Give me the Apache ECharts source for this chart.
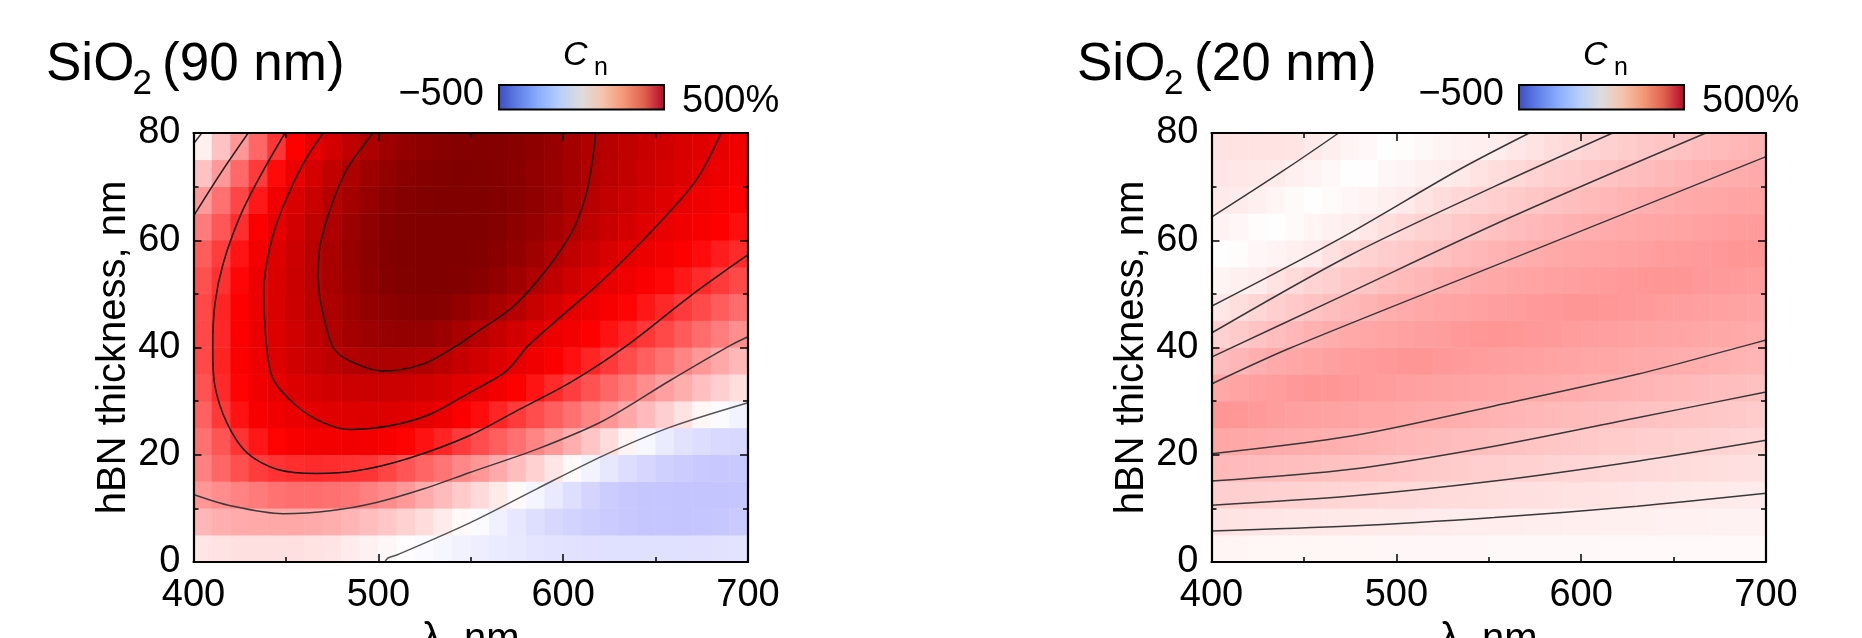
<!DOCTYPE html>
<html><head><meta charset="utf-8">
<script src="https://cdn.jsdelivr.net/npm/echarts@6/dist/echarts.min.js"></script>
<style>html,body{margin:0;padding:0;background:#fff}#c{width:1862px;height:638px}</style>
</head><body><div id="c"></div>
<script>
// ---- cell centres of the heatmaps ----
const lambdaCells = [405,415,425,435,445,455,465,475,485,495,505,515,525,535,545,555,565,575,585,595,605,615,625,635,645,655,665,675,685,695];
const thicknessCells = [2.5,7.5,12.5,17.5,22.5,27.5,32.5,37.5,42.5,47.5,52.5,57.5,62.5,67.5,72.5,77.5];

// ---- Cn (%) for SiO2 90 nm, rows from bottom (2.5 nm) to top (77.5 nm) ----
const cn90 = [
[25,28,30,30,30,30,28,25,20,14,8,2,-4,-9,-13,-17,-20,-23,-25,-27,-28,-29,-30,-30,-30,-30,-30,-29,-28,-27],
[72,78,82,84,85,85,83,79,73,65,55,45,33,20,6,-5,-15,-24,-32,-38,-43,-48,-51,-54,-56,-57,-58,-57,-55,-52],
[102,112,122,130,138,142,143,140,135,125,113,100,82,67,52,36,21,6,-10,-22,-32,-42,-50,-54,-56,-57,-58,-58,-58,-57],
[125,150,172,190,200,206,208,206,202,198,183,167,151,135,118,102,83,64,44,25,6,-12,-24,-33,-40,-46,-50,-53,-54,-53],
[140,168,200,228,248,262,270,275,276,272,262,248,232,214,193,175,157,139,120,101,80,57,34,11,-8,-20,-28,-33,-37,-38],
[155,195,232,262,280,292,302,310,314,316,315,310,302,283,260,237,214,193,175,157,139,121,104,85,67,48,28,9,-5,-12],
[170,210,248,280,297,318,332,342,350,352,352,348,340,328,312,298,275,253,230,208,188,169,150,131,112,94,79,63,48,32],
[178,215,255,288,315,340,362,382,400,410,412,410,402,384,362,341,319,298,277,256,235,214,194,175,157,139,120,102,85,70],
[178,212,255,290,318,345,375,405,428,445,455,460,458,445,420,389,362,336,309,287,269,250,232,214,196,178,161,144,127,110],
[178,214,250,287,323,354,385,412,440,460,475,485,488,482,465,445,420,392,361,330,299,282,264,246,228,211,193,177,160,144],
[172,203,244,284,321,356,391,422,450,472,488,498,503,503,496,482,462,435,405,374,346,317,294,277,260,243,226,209,193,178],
[160,190,231,274,315,352,388,422,452,476,493,503,507,508,505,497,485,465,438,405,378,353,327,302,285,270,254,239,223,208],
[130,165,205,255,300,338,376,410,445,470,487,498,504,506,505,500,490,475,455,432,402,380,357,335,312,293,279,264,250,236],
[99,140,181,226,275,320,358,396,430,458,478,490,498,502,502,500,495,485,468,448,420,392,372,353,334,315,296,280,265,250],
[60,100,147,193,241,290,334,373,408,440,465,480,492,498,500,498,492,480,465,448,428,401,385,368,350,333,316,298,284,270],
[15,60,102,150,198,250,298,336,374,410,440,460,475,485,490,492,490,485,472,455,430,403,387,372,356,341,326,310,295,280]
];

// ---- Cn (%) for SiO2 20 nm ----
const cn20 = [
[10,10,9,9,9,9,9,9,9,8,8,8,8,8,8,7,7,7,7,7,7,6,6,6,6,6,6,6,6,6],
[27,26,25,25,24,24,23,23,22,21,21,20,20,19,19,18,18,17,17,16,16,15,15,15,14,14,14,13,13,13],
[48,47,46,45,44,43,42,41,40,38,37,36,35,34,33,32,31,30,29,28,27,26,25,24,24,23,22,21,20,20],
[69,67,66,65,64,63,62,61,59,57,55,53,52,50,48,47,45,44,42,41,40,38,37,36,35,34,33,32,31,30],
[87,85,84,82,81,80,78,77,75,73,71,69,67,65,64,62,60,58,56,55,53,51,50,48,47,45,44,43,41,40],
[103,102,99,96,94,92,91,89,87,86,84,82,81,79,77,75,73,71,69,68,66,64,62,61,59,57,56,54,53,51],
[85,90,94,97,100,103,103,101,98,96,94,92,91,89,88,86,84,83,82,80,78,77,75,73,71,69,67,65,64,62],
[66,72,78,83,87,90,93,96,98,101,103,103,101,99,97,95,93,92,90,89,87,86,84,83,82,80,79,76,75,73],
[45,52,59,65,71,77,81,84,87,90,92,95,97,100,102,104,102,100,99,97,95,94,92,91,89,88,86,85,84,82],
[24,32,40,47,53,59,64,69,74,79,82,85,88,90,92,95,97,99,101,103,103,102,100,99,97,95,94,92,91,89],
[11,15,19,27,35,43,48,54,58,63,68,72,77,80,83,85,88,90,92,94,96,98,100,102,103,103,101,99,98,96],
[1,3,8,12,16,20,30,39,44,49,53,58,62,67,71,75,78,81,84,86,88,90,92,94,96,98,99,101,103,103],
[13,8,3,1,5,10,14,18,24,32,39,44,48,53,57,62,66,69,73,76,80,82,84,86,88,90,92,94,96,98],
[21,20,15,10,5,1,4,8,12,16,20,27,33,39,43,48,52,56,60,64,68,71,75,78,81,83,85,87,89,90],
[25,24,23,21,16,11,7,1,2,8,11,15,18,23,28,33,38,43,47,51,55,59,63,66,70,73,76,79,81,83],
[28,28,27,27,26,22,17,11,7,1,3,7,11,14,16,19,24,28,33,38,42,46,50,54,58,61,65,68,71,74]
];

// ---- contour lines [λ nm, hBN thickness nm], SiO2 90 nm ----
const c90_0a = [[400,78],[404.5,80]];
const c90_100a = [[400,64.5],[414.7,72.5],[429.6,80]];
const c90_200 = [[449.5,80],[436,71.9],[425.1,64.4],[416.1,55.7],[411.6,48.2],[410.4,40],[411.6,32.8],[418,26],[428.8,20.4],[445,17.3],[466.6,16.5],[488.2,17],[515.2,19.2],[549.5,23.6],[576.5,28.5],[603.5,33.4],[634.2,40.3],[668.4,49.5],[700,57.3]];
const c90_300 = [[470.2,80],[459.4,74.3],[448.5,66.3],[441.4,58.8],[438.1,50.7],[439.6,40],[443.1,34.1],[455.8,29.1],[470.2,26],[484.6,24.7],[506.2,25.4],[527.8,27.5],[549.5,31.6],[569.3,35.6],[581,40.3],[601,46.4],[621.5,52.6],[648.5,61.9],[672,71.2],[685.5,80]];
const c90_400 = [[497.2,80],[482.8,73.1],[473.8,65.6],[468.4,58.8],[467.5,53.2],[469.3,47.6],[475.6,40],[484.6,37.5],[502.4,35.6],[524.2,36.9],[542.2,40.3],[549.5,42],[572.9,47.6],[590.9,54.5],[605.3,61.9],[612,68],[615.5,74],[617.6,80]];
const c90_100b = [[400,12.6],[420,10.5],[448.5,9],[475,9.6],[499,11.1],[524.2,13.6],[549.5,16.7],[585.5,21],[621.5,26.3],[657.6,33.8],[690,40.3],[700,42]];
const c90_0b = [[503.5,0],[505,0.7],[510,1.3],[549.5,7.3],[585.5,13.6],[621.5,19.8],[657.6,25.1],[700,29.7]];

// ---- contour lines, SiO2 20 nm ----
const c20_1 = [[400,64.3],[436.8,72.5],[468.8,80]];
const c20_2 = [[400,47.7],[470,60.4],[533.6,73.1],[572,80]];
const c20_3 = [[400,42.7],[475.5,57.3],[552.9,70],[617,80]];
const c20_4 = [[400,38.2],[470,49.5],[560,64],[667.5,80]];
const c20_5 = [[400,33.2],[442.6,39.9],[550,54.8],[700,75.6]];
const c20_6 = [[400,20.2],[475.5,23.5],[552.9,29.1],[630.3,35],[688.3,40.3],[700,41.4]];
const c20_7 = [[400,15.1],[475.5,17.3],[552.9,21.6],[630.3,26.9],[700,31.7]];
const c20_8 = [[400,10.6],[475.5,12.3],[552.9,15.1],[630.3,18.8],[700,22.7]];
const c20_9 = [[400,5.8],[475.5,6.7],[552.9,8.3],[630.3,10.4],[700,12.8]];

// ---- axis / text ----
const xRange = [400, 700], xStep = 100;
const yRange = [0, 80], yStep = 20;
const xName = 'λ, nm';
const yName = 'hBN thickness, nm';
const titles = ['(90 nm)', '(20 nm)'];

const FONT = '"Liberation Sans", Arial, sans-serif';
const seismic = ['#00004d', '#0000ff', '#ffffff', '#ff0000', '#800000'];
const coolwarm = [[0,'#3b4cc0'],[0.125,'#6282ea'],[0.25,'#8db0fe'],[0.375,'#b8d0f9'],[0.5,'#dddcdc'],[0.625,'#f5c4ac'],[0.75,'#f4987a'],[0.875,'#de614d'],[1,'#b40426']];

function heatData(rows) {
  const out = [];
  rows.forEach((row, r) => row.forEach((v, c) => out.push([c, r, v])));
  return out;
}

const plots = [
  {left: 193.5, cn: cn90, contours: [
    [c90_0a,'#333'],[c90_100a,'#222'],[c90_200,'#111'],[c90_300,'#111'],[c90_400,'#111'],[c90_100b,'#3a3a3a'],[c90_0b,'#555']]},
  {left: 1211.5, cn: cn20, contours: [
    [c20_1,'#383838'],[c20_2,'#383838'],[c20_3,'#383838'],[c20_4,'#383838'],[c20_5,'#383838'],[c20_6,'#383838'],[c20_7,'#383838'],[c20_8,'#383838'],[c20_9,'#383838']]}
];

const grid = [], xAxis = [], yAxis = [], series = [], heatIdx = [];
const TOP = 133, W = 554.5, H = 429;

function valAxis(isX, gi, pos, withLabels) {
  return {
    type: 'value', gridIndex: gi, position: pos, z: 10,
    min: isX ? xRange[0] : yRange[0], max: isX ? xRange[1] : yRange[1],
    interval: isX ? xStep : yStep,
    axisLine: {show: true, onZero: false, lineStyle: {color: '#000', width: 2.2}},
    axisTick: {show: true, inside: true, length: 8, lineStyle: {color: '#000', width: 1.5}},
    minorTick: {show: true, splitNumber: 2, length: 5, lineStyle: {color: '#000', width: 1.5}},
    splitLine: {show: false}, minorSplitLine: {show: false},
    axisLabel: {show: withLabels, margin: isX ? 15 : 13, fontSize: 38, fontFamily: FONT, color: '#000'},
    name: withLabels ? (isX ? xName : yName) : '',
    nameLocation: 'middle', nameGap: isX ? 57 : 59,
    nameTextStyle: {fontSize: 40, fontFamily: FONT, color: '#000'}
  };
}

plots.forEach((p, k) => {
  const gHeat = grid.length;
  grid.push({left: p.left, top: TOP, width: W, height: H, containLabel: false, outerBoundsMode: 'none'});
  const gAx = grid.length;
  grid.push({left: p.left, top: TOP, width: W, height: H, containLabel: false, outerBoundsMode: 'none'});
  const xHeat = xAxis.length;
  xAxis.push({type: 'category', gridIndex: gHeat, data: lambdaCells, show: false});
  const xMain = xAxis.length;
  xAxis.push(valAxis(true, gAx, 'bottom', true));
  xAxis.push(valAxis(true, gAx, 'top', false));
  const yHeat = yAxis.length;
  yAxis.push({type: 'category', gridIndex: gHeat, data: thicknessCells, show: false});
  const yMain = yAxis.length;
  yAxis.push(valAxis(false, gAx, 'left', true));
  yAxis.push(valAxis(false, gAx, 'right', false));

  heatIdx.push(series.length);
  series.push({type: 'heatmap', xAxisIndex: xHeat, yAxisIndex: yHeat, data: heatData(p.cn),
    silent: true, z: 1, progressive: 0, itemStyle: {borderWidth: 0}});
  p.contours.forEach(([d, col]) => {
    series.push({type: 'line', xAxisIndex: xMain, yAxisIndex: yMain, data: d,
      showSymbol: false, symbol: 'none', smooth: 0.3, silent: true, z: 5, clip: true,
      lineStyle: {color: col, width: 1.5}});
  });
});

function txt(x, y, text, font, align) {
  return {type: 'text', x: x, y: y, z: 20, silent: true,
    style: {text: text, font: font, fill: '#000', align: align || 'left', verticalAlign: 'middle',
            textAlign: align || 'left', textVerticalAlign: 'middle'}};
}
const graphic = [];
const tOff = [[46,132.5,162],[1077,1164,1194]];
const cbX = [499, 1519];
titles.forEach((t, k) => {
  const [a, b, c] = tOff[k];
  graphic.push(txt(a, 65, 'SiO', '53px ' + FONT));
  graphic.push(txt(b, 84.6, '2', '35px ' + FONT));
  graphic.push(txt(c, 65, t, '53px ' + FONT));
  const x0 = cbX[k];
  graphic.push({type: 'rect', z: 20, silent: true, shape: {x: x0, y: 85, width: 165, height: 24.5},
    style: {fill: {type: 'linear', x: 0, y: 0, x2: 1, y2: 0,
      colorStops: coolwarm.map(([o, c2]) => ({offset: o, color: c2}))}, stroke: '#000', lineWidth: 2}});
  graphic.push(txt(x0 - 15, 95, '−500', '38px ' + FONT, 'right'));
  graphic.push(txt(x0 + 183, 101.8, '500%', '38px ' + FONT, 'left'));
  graphic.push(txt(x0 + 64, 56, 'C', 'italic 34px ' + FONT));
  graphic.push(txt(x0 + 95, 68, 'n', '25px ' + FONT));
});

const chart = echarts.init(document.getElementById('c'), null, {renderer: 'canvas'});
chart.setOption({
  animation: false,
  backgroundColor: '#fff',
  grid: grid, xAxis: xAxis, yAxis: yAxis,
  visualMap: [{type: 'continuous', show: false, min: -500, max: 500, dimension: 2,
    seriesIndex: heatIdx, inRange: {color: seismic}}],
  series: series,
  graphic: graphic
});
</script>
</body></html>
